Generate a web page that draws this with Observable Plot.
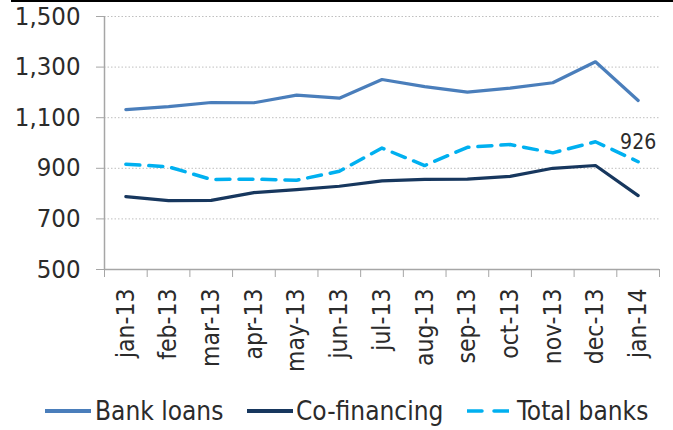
<!DOCTYPE html>
<html>
<head>
<meta charset="utf-8">
<script src="https://cdn.jsdelivr.net/npm/d3@7"></script>
<script src="https://cdn.jsdelivr.net/npm/@observablehq/plot@0.6"></script>
<style>
  body { margin: 0; background: #fff; font-family: "DejaVu Sans Condensed", sans-serif; }
  #wrap { position: relative; width: 673px; height: 430px; overflow: hidden; }
  #topline { position: absolute; left: 11px; top: 0; width: 662px; height: 2px; background: #000; }
  #chart { position: absolute; left: 0; top: 0; }
  #legend { position: absolute; left: 0; top: 385px; width: 673px; height: 45px; }
  .item { position: absolute; top: 0; height: 45px; }
  .item svg { position: absolute; top: 0; left: 0; }
  .item span { position: absolute; top: 11px; font-size: 26px; color: #2b2b2b; white-space: nowrap; line-height: 30px; }
</style>
</head>
<body>
<div id="wrap">
  <div id="chart"></div>
  <div id="topline"></div>
  <div id="legend"></div>
</div>
<script>
const months = ["jan-13","feb-13","mar-13","apr-13","may-13","jun-13","jul-13","aug-13","sep-13","oct-13","nov-13","dec-13","jan-14"];
const bankLoans   = [1132,1144,1160,1159,1189,1177,1251,1223,1201,1217,1238,1321,1168];
const coFinancing = [788,772,773,804,816,829,850,856,857,868,900,911,792];
const totalBanks  = [916,906,856,857,853,888,980,911,983,994,961,1005,926];
const yTicks = [500,700,900,1100,1300,1500];
const seriesNames = ["Bank loans","Co-financing","Total banks"];

const colors = {"Bank loans":"#4a7ebb","Co-financing":"#17375e","Total banks":"#00b0f0"};
const seriesValues = [bankLoans, coFinancing, totalBanks];
const rows = [];
seriesNames.forEach((s, k) => seriesValues[k].forEach((v, i) => rows.push({series: s, i, v})));

const idx = months.map((d, i) => i);
const bounds = months.map((d, i) => i - 0.5).concat([months.length - 0.5]);
const xDomain = [bounds[0], bounds[bounds.length - 1]];
const yDomain = [yTicks[0], yTicks[yTicks.length - 1]];
const lastI = months.length - 1;

const font = '"DejaVu Sans Condensed", sans-serif';

const plot = Plot.plot({
  width: 673,
  height: 385,
  marginLeft: 104,
  marginRight: 14,
  marginTop: 16,
  marginBottom: 116,
  style: {fontFamily: font, color: "#2b2b2b", background: "transparent", overflow: "visible"},
  x: {domain: xDomain, axis: null, label: null},
  y: {domain: yDomain, axis: null, label: null},
  marks: [
    Plot.gridY(yTicks.slice(1), {stroke: "#bfbfbf", strokeOpacity: 1, strokeDasharray: "1.5,2"}),
    Plot.ruleX([xDomain[0]], {y1: yDomain[0], y2: yDomain[1], stroke: "#a6a6a6", strokeWidth: 1.5}),
    Plot.ruleY([yDomain[0]], {stroke: "#a6a6a6", strokeWidth: 1.5}),
    Plot.axisY({ticks: yTicks, tickFormat: d3.format(","), tickSize: 8, tickPadding: 16, stroke: "#a6a6a6", fontSize: 25.5, fill: "#2b2b2b", label: null}),
    Plot.axisX({ticks: bounds, tickFormat: () => "", tickSize: 8, stroke: "#a6a6a6", label: null}),
    Plot.axisX({ticks: idx, tickFormat: i => months[i], tickSize: 0, tickPadding: 19, tickRotate: -90, fontSize: 24.5, fill: "#2b2b2b", label: null}),
    Plot.line(rows.filter(d => d.series !== "Total banks"), {x: "i", y: "v", z: "series", stroke: d => colors[d.series], strokeWidth: 3.2, strokeLinejoin: "round"}),
    Plot.line(rows.filter(d => d.series === "Total banks"), {x: "i", y: "v", stroke: colors["Total banks"], strokeWidth: 3.5, strokeDasharray: "14,9"}),
    Plot.text([{i: lastI, v: totalBanks[lastI]}], {x: "i", y: "v", text: d => String(d.v), dy: -13, lineAnchor: "bottom", fontSize: 21, fill: "#2b2b2b"})
  ]
});
document.getElementById("chart").appendChild(plot);

// legend
const legendPos = [{line: 45, text: 95}, {line: 247, text: 296}, {line: 467, text: 517}];
const legend = document.getElementById("legend");
seriesNames.forEach((s, k) => {
  const item = document.createElement("div");
  item.className = "item";
  item.style.left = legendPos[k].line + "px";
  const dashed = s === "Total banks";
  const w = dashed ? 42 : 46;
  item.innerHTML = `<svg width="${w}" height="45"><line x1="0" x2="${w}" y1="26" y2="26" stroke="${colors[s]}" stroke-width="${dashed ? 3.5 : 4}" ${dashed ? 'stroke-dasharray="15,12"' : ''} stroke-linecap="round"/></svg><span style="left:${legendPos[k].text - legendPos[k].line}px">${s}</span>`;
  legend.appendChild(item);
});
</script>
</body>
</html>
